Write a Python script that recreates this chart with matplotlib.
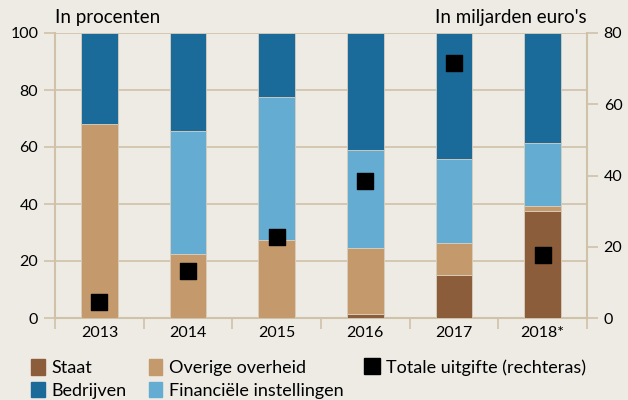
import numpy as np
import matplotlib
matplotlib.use('Agg')
import matplotlib.pyplot as plt
from matplotlib.patches import Patch
from matplotlib.lines import Line2D

# ============================================================
# Data
# ============================================================

years = ['2013', '2014', '2015', '2016', '2017', '2018*']
staat = [0.0, 0.0, 0.0, 1.4, 15.0, 37.4]
overige = [68.2, 22.6, 27.5, 23.0, 11.2, 1.8]
financieel = [0.0, 43.1, 50.0, 34.7, 29.7, 22.3]
bedrijven = [31.8, 34.3, 22.5, 40.9, 44.1, 38.5]
totaal = [4.5, 13.2, 22.7, 38.5, 71.6, 17.7]  # miljarden euro's (rechteras)

# ============================================================
# Style
# ============================================================

BG = '#eeebe4'
GRID = '#cfc2a8'
C_STAAT = '#8b5d3b'
C_OVERIGE = '#c49a6c'
C_BEDRIJVEN = '#1b6b9a'
C_FIN = '#64acd1'

plt.rcParams['font.family'] = ['Lato', 'DejaVu Sans']

fig = plt.figure(figsize=(6.28, 4.0), dpi=100, facecolor=BG)
ax = fig.add_axes([0.0876, 0.205, 0.8471, 0.7125])
ax.set_facecolor(BG)

x = np.arange(len(years))
w = 0.41
bottom = np.zeros(len(years))
for vals, col in [(staat, C_STAAT), (overige, C_OVERIGE),
                  (financieel, C_FIN), (bedrijven, C_BEDRIJVEN)]:
    ax.bar(x, vals, w, bottom=bottom, color=col, edgecolor='#d9cfbd',
           linewidth=0.6, zorder=3)
    bottom += np.array(vals)

ax.set_xlim(-0.5, len(years) - 0.5)
ax.set_ylim(0, 100)
ax.set_yticks([0, 20, 40, 60, 80, 100])
ax.yaxis.grid(True, color=GRID, linewidth=1.2, zorder=0)
ax.set_xticks(x)
ax.set_xticklabels(years)
ax.set_xticks(np.arange(-0.5, len(years)), minor=True)
ax.tick_params(axis='x', which='major', length=0, labelsize=11.5, pad=6)
ax.tick_params(axis='x', which='minor', length=8, color=GRID, width=1.2)
ax.tick_params(axis='y', length=8, color=GRID, width=1.2, labelsize=11.5, pad=4)
for s in ['top', 'right']:
    ax.spines[s].set_visible(False)
for s in ['left', 'bottom']:
    ax.spines[s].set_color(GRID)
    ax.spines[s].set_linewidth(1.5)

ax2 = ax.twinx()
ax2.set_ylim(0, 80)
ax2.set_yticks([0, 20, 40, 60, 80])
ax2.scatter(x, totaal, marker='s', s=130, color='black', zorder=5)
ax2.tick_params(axis='y', length=8, color=GRID, width=1.2, labelsize=11.5, pad=4)
for s in ['top', 'left', 'bottom']:
    ax2.spines[s].set_visible(False)
ax2.spines['right'].set_color(GRID)
ax2.spines['right'].set_linewidth(1.5)

fig.text(0.0876, 0.955, 'In procenten', fontsize=13.5, ha='left', va='center')
fig.text(0.9347, 0.955, "In miljarden euro's", fontsize=13.5, ha='right', va='center')

handles = [
    Patch(color=C_STAAT, label='Staat'),
    Patch(color=C_BEDRIJVEN, label='Bedrijven'),
    Patch(color=C_OVERIGE, label='Overige overheid'),
    Patch(color=C_FIN, label='Financiële instellingen'),
    Line2D([], [], marker='s', color='black', linestyle='none',
           markersize=11, label='Totale uitgifte (rechteras)'),
]
fig.legend(handles=handles, ncol=3, loc='upper left',
           bbox_to_anchor=(0.035, 0.125), frameon=False, fontsize=13,
           handlelength=0.75, handleheight=0.95, handletextpad=0.4,
           columnspacing=1.2, labelspacing=0.32, borderpad=0)

fig.savefig('out.png', dpi=100, facecolor=BG)
